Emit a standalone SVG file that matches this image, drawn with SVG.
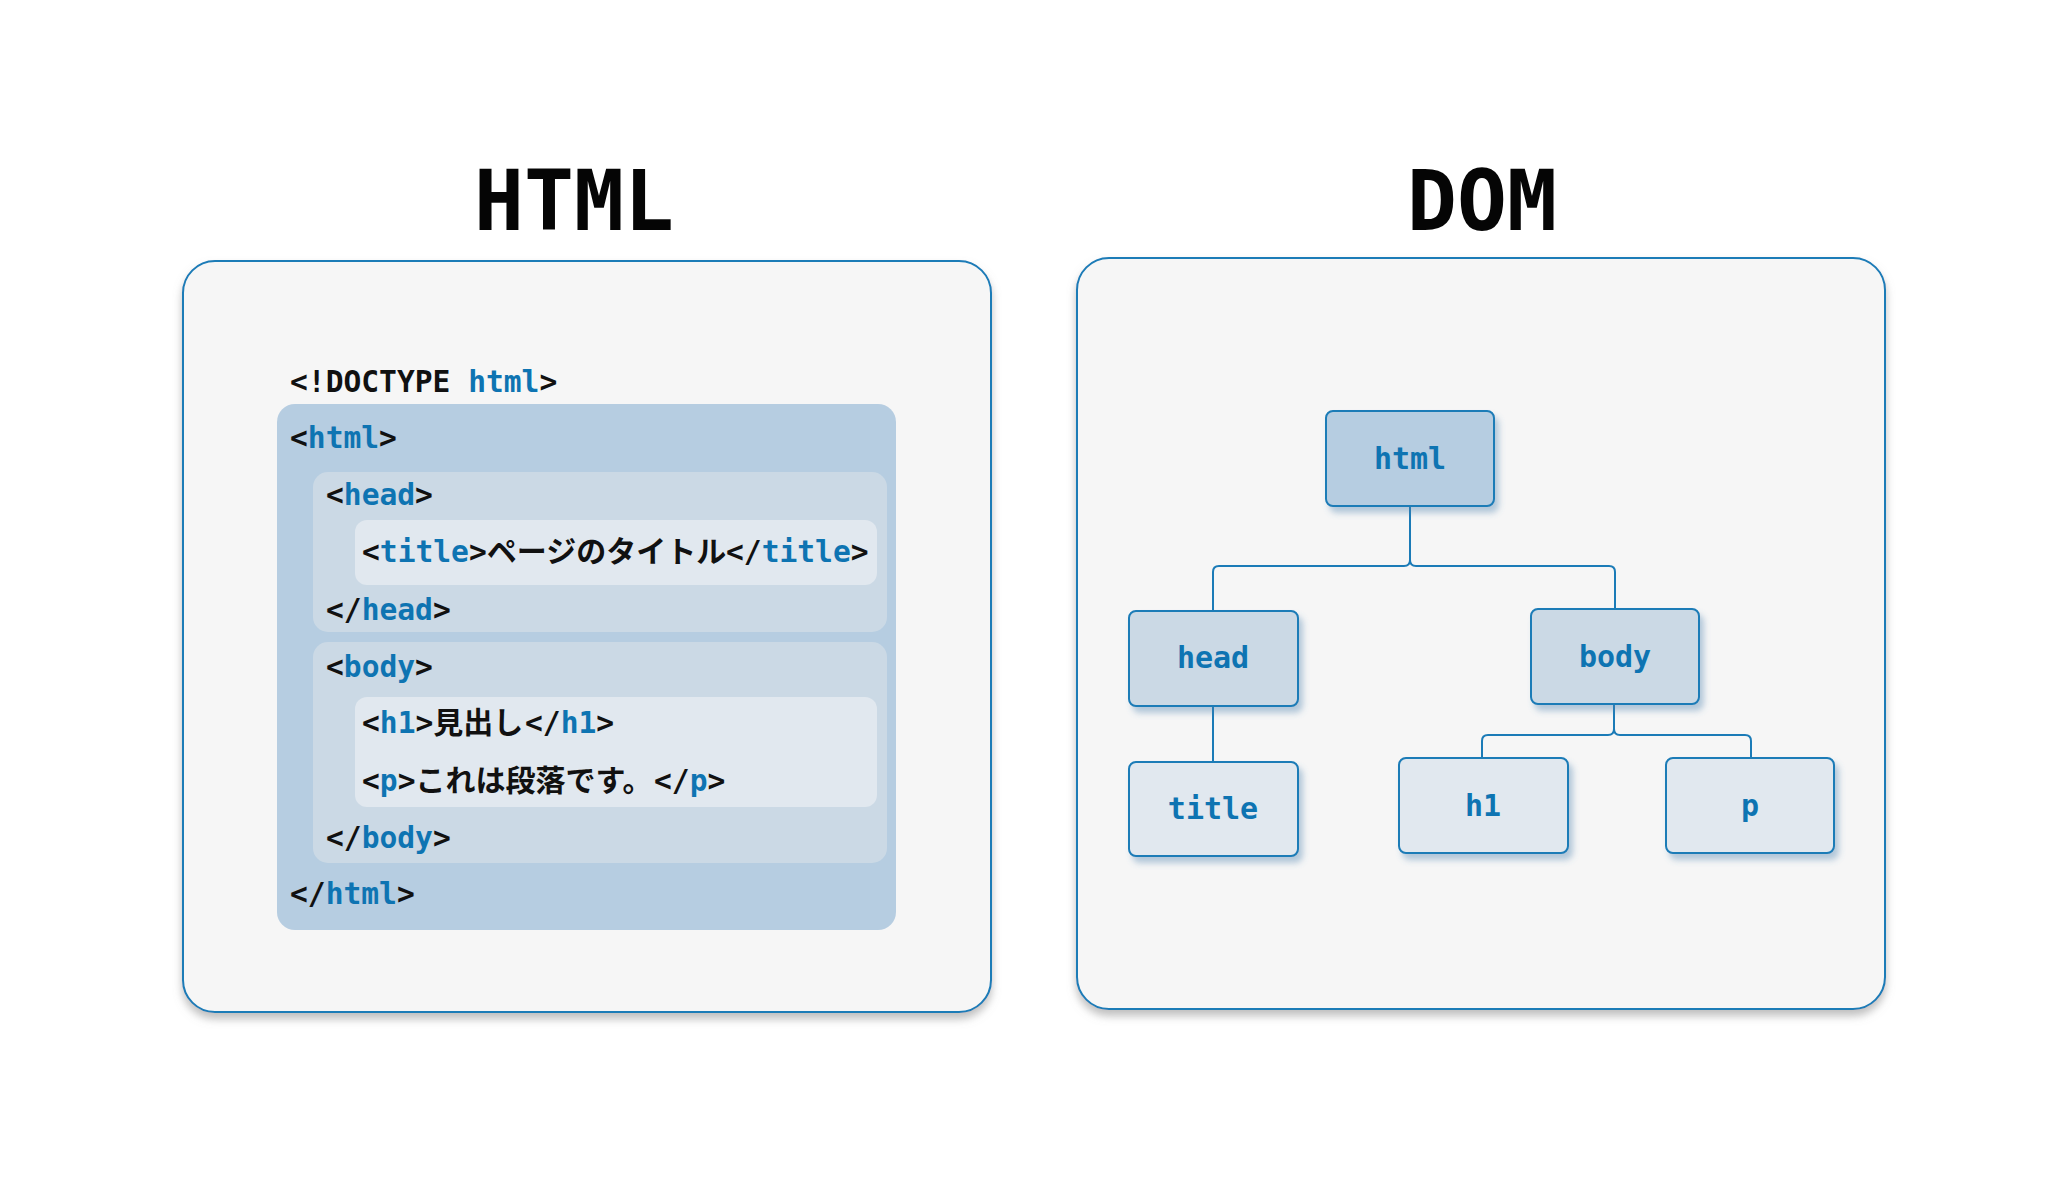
<svg xmlns="http://www.w3.org/2000/svg" width="2070" height="1181" viewBox="0 0 2070 1181">
<defs>
<filter id="panelShadow" x="-5%" y="-5%" width="110%" height="112%">
<feDropShadow dx="0" dy="6" stdDeviation="4" flood-color="#8a8a8a" flood-opacity="0.55"/>
</filter>
<filter id="nodeShadow" x="-10%" y="-10%" width="130%" height="140%">
<feDropShadow dx="4" dy="6" stdDeviation="3" flood-color="#4a7fae" flood-opacity="0.4"/>
</filter>
<style>
.title{font-family:"DejaVu Sans Mono","Liberation Mono",monospace;font-weight:bold;font-size:83px;fill:#050505;text-anchor:middle}
.panel{fill:#f6f6f6;stroke:#1b7bb7;stroke-width:2}
.code{font-family:"DejaVu Sans Mono","Noto Sans CJK JP",monospace;font-weight:bold;font-size:29.6px;fill:#111111}
.tag{fill:#0e74b2}
.jp{font-family:"Noto Sans CJK JP","Noto Sans CJK SC",sans-serif;font-weight:bold;font-size:30px;fill:#111111}
.b0{fill:#b6cde1}
.b1{fill:#cbd9e5}
.b2{fill:#e1e8ef}
.node rect{stroke:#1b7bb7;stroke-width:2}
.node text{font-family:"DejaVu Sans Mono","Liberation Mono",monospace;font-weight:bold;font-size:30px;fill:#0e74b2;text-anchor:middle}
.conn{fill:none;stroke:#1b7bb7;stroke-width:2}
</style>
</defs>
<rect width="2070" height="1181" fill="#ffffff"/>

<text class="title" x="574" y="230">HTML</text>
<text class="title" x="1482" y="230">DOM</text>

<g id="html-panel">
<rect class="panel" x="183" y="261" width="808" height="751" rx="32" filter="url(#panelShadow)"/>
<rect class="b0" x="277" y="404" width="619" height="526" rx="18"/>
<rect class="b1" x="313" y="472" width="574" height="160" rx="15"/>
<rect class="b2" x="355" y="520" width="522" height="65" rx="12"/>
<rect class="b1" x="313" y="642" width="574" height="221" rx="15"/>
<rect class="b2" x="355" y="697" width="522" height="110" rx="12"/>
<text class="code" x="290" y="392">&lt;!DOCTYPE <tspan class="tag">html</tspan>&gt;</text>
<text class="code" x="290" y="448">&lt;<tspan class="tag">html</tspan>&gt;</text>
<text class="code" x="326" y="505">&lt;<tspan class="tag">head</tspan>&gt;</text>
<text class="code" x="362" y="562">&lt;<tspan class="tag">title</tspan>&gt;<tspan class="jp">ページのタイトル</tspan><tspan x="726">&lt;/</tspan><tspan class="tag">title</tspan>&gt;</text>
<text class="code" x="326" y="620">&lt;/<tspan class="tag">head</tspan>&gt;</text>
<text class="code" x="326" y="677">&lt;<tspan class="tag">body</tspan>&gt;</text>
<text class="code" x="362" y="733">&lt;<tspan class="tag">h1</tspan>&gt;<tspan class="jp">見出し</tspan><tspan x="525">&lt;/</tspan><tspan class="tag">h1</tspan>&gt;</text>
<text class="code" x="362" y="791">&lt;<tspan class="tag">p</tspan>&gt;<tspan class="jp">これは段落です。</tspan><tspan x="654">&lt;/</tspan><tspan class="tag">p</tspan>&gt;</text>
<text class="code" x="326" y="848">&lt;/<tspan class="tag">body</tspan>&gt;</text>
<text class="code" x="290" y="904">&lt;/<tspan class="tag">html</tspan>&gt;</text>
</g>

<g id="dom-panel">
<rect class="panel" x="1077" y="258" width="808" height="751" rx="32" filter="url(#panelShadow)"/>
</g>

<g id="connectors">
<path class="conn" d="M1410,506 V560 Q1410,566 1404,566 H1219 Q1213,566 1213,572 V611"/>
<path class="conn" d="M1410,560 Q1410,566 1416,566 H1609 Q1615,566 1615,572 V609"/>
<path class="conn" d="M1213,706 V762"/>
<path class="conn" d="M1614,704 V729 Q1614,735 1608,735 H1488 Q1482,735 1482,741 V758"/>
<path class="conn" d="M1614,729 Q1614,735 1620,735 H1745 Q1751,735 1751,741 V758"/>
</g>

<g id="node-html" class="node">
<rect class="b0" x="1326" y="411" width="168" height="95" rx="7" filter="url(#nodeShadow)"/>
<text x="1410" y="469">html</text>
</g>
<g id="node-head" class="node">
<rect class="b1" x="1129" y="611" width="169" height="95" rx="7" filter="url(#nodeShadow)"/>
<text x="1213" y="668">head</text>
</g>
<g id="node-body" class="node">
<rect class="b1" x="1531" y="609" width="168" height="95" rx="7" filter="url(#nodeShadow)"/>
<text x="1615" y="667">body</text>
</g>
<g id="node-title" class="node">
<rect class="b2" x="1129" y="762" width="169" height="94" rx="7" filter="url(#nodeShadow)"/>
<text x="1213" y="819">title</text>
</g>
<g id="node-h1" class="node">
<rect class="b2" x="1399" y="758" width="169" height="95" rx="7" filter="url(#nodeShadow)"/>
<text x="1483" y="816">h1</text>
</g>
<g id="node-p" class="node">
<rect class="b2" x="1666" y="758" width="168" height="95" rx="7" filter="url(#nodeShadow)"/>
<text x="1750" y="816">p</text>
</g>
</svg>
